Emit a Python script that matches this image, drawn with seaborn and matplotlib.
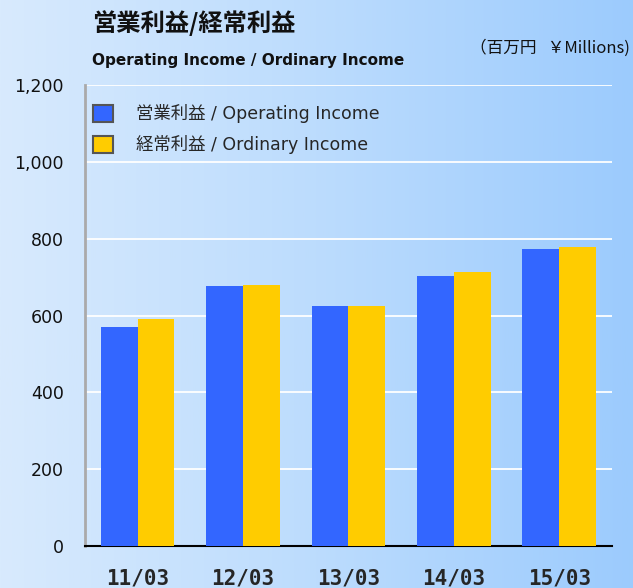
import numpy as np
import pandas as pd
import seaborn as sns
import matplotlib.pyplot as plt
from matplotlib.colors import LinearSegmentedColormap
from matplotlib.patches import Patch

# ---------------------- Data ------------------------
years = ["11/03", "12/03", "13/03", "14/03", "15/03"]
operating_income = [569, 678, 626, 702, 774]
ordinary_income = [590, 680, 626, 712, 779]
series_names = ["営業利益 / Operating Income", "経常利益 / Ordinary Income"]
yticks = [0, 200, 400, 600, 800, 1000, 1200]

df = pd.DataFrame({
    "year": years * 2,
    "value": operating_income + ordinary_income,
    "series": [series_names[0]] * len(years) + [series_names[1]] * len(years),
})

# ---------------------- Style -----------------------
sns.set_style("white")
# latin text in DejaVu, japanese falls back to Noto CJK
plt.rcParams["font.family"] = ["DejaVu Sans", "Noto Sans CJK JP"]
cjk = ["Noto Sans CJK JP", "DejaVu Sans"]

blue = "#3366ff"
yellow = "#ffcc00"

fig = plt.figure(figsize=(6.33, 5.88), dpi=100)

# gradient background over the whole figure
bg = fig.add_axes([0, 0, 1, 1], zorder=-10)
cmap = LinearSegmentedColormap.from_list("bg", ["#d8eafd", "#bcdcfd", "#9ccbfd"])
grad = np.linspace(0, 1, 256).reshape(1, -1)
bg.imshow(grad, cmap=cmap, aspect="auto", extent=[0, 1, 0, 1])
bg.axis("off")

ax = fig.add_axes([0.134, 0.0714, 0.833, 0.784])
ax.patch.set_alpha(0)

sns.barplot(data=df, x="year", y="value", hue="series",
            palette=[blue, yellow], width=0.7, saturation=1, linewidth=0,
            legend=False, ax=ax, zorder=3)

ax.set_ylim(0, 1200)
ax.set_xlim(-0.5, len(years) - 0.5)
ax.set_yticks(yticks)
ax.set_yticklabels([f"{v:,}" for v in yticks], fontsize=12.5, color="#111111")
ax.yaxis.grid(True, color="white", linewidth=1.3, zorder=0)
ax.set_axisbelow(True)
ax.set_xlabel("")
ax.set_ylabel("")

# x labels: bold, spaced
ax.set_xticks(range(len(years)))
ax.set_xticklabels(years, fontsize=15, fontweight="bold", family="DejaVu Sans Mono")
ax.tick_params(axis="x", length=0, pad=16)
ax.set_xticks(np.arange(-0.5, len(years)), minor=True)
ax.tick_params(axis="x", which="minor", direction="in", length=5, width=1.3, color="black")
ax.tick_params(axis="y", direction="in", length=6, width=2, color="#888888", pad=15)

for s in ["top", "right"]:
    ax.spines[s].set_visible(False)
ax.spines["left"].set_color("#aaaaaa")
ax.spines["left"].set_linewidth(2)
ax.spines["bottom"].set_color("black")
ax.spines["bottom"].set_linewidth(1.5)

# legend
handles = [Patch(facecolor=blue, edgecolor="#555555", linewidth=1.5),
           Patch(facecolor=yellow, edgecolor="#555555", linewidth=1.5)]
ax.legend(handles, series_names, loc="upper left", bbox_to_anchor=(-0.008, 0.985),
          frameon=False, fontsize=12.5, handlelength=1.15, handleheight=1.15,
          handletextpad=1.35, labelspacing=0.7, borderaxespad=0.3)

# titles
fig.text(92 / 633, 1 - 23 / 588, "営業利益/経常利益", fontsize=17.5, fontweight="bold",
         va="center", ha="left", color="#111111", family=cjk)
fig.text(92 / 633, 1 - 60 / 588, "Operating Income / Ordinary Income", fontsize=11,
         fontweight="bold", va="center", ha="left", color="#111111")
fig.text(630 / 633, 1 - 48 / 588, "（百万円   ￥Millions)", fontsize=12,
         va="center", ha="right", color="#111111", family=cjk)

plt.savefig("out.png", dpi=100)
